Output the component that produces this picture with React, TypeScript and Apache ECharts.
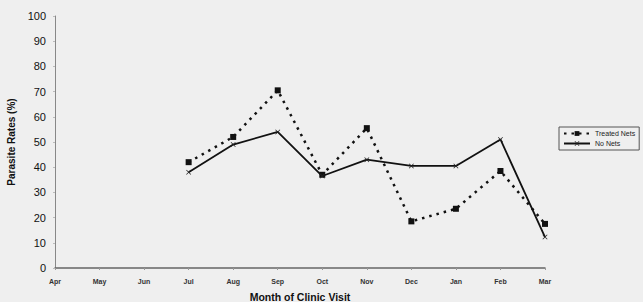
import React, { useEffect, useRef } from "react";
import * as echarts from "echarts";

const months = ["Apr", "May", "Jun", "Jul", "Aug", "Sep", "Oct", "Nov", "Dec", "Jan", "Feb", "Mar"];
const treatedNets: (number | null)[] = [null, null, null, 42, 52, 70.5, 37, 55.5, 18.5, 23.5, 38.5, 17.5];
const noNets: (number | null)[] = [null, null, null, 38, 49, 54, 36.5, 43, 40.5, 40.5, 51, 12.3];
const yTicks = [0, 10, 20, 30, 40, 50, 60, 70, 80, 90, 100];

const xSymbol = "path://M0,1 L1,0 L5,4 L9,0 L10,1 L6,5 L10,9 L9,10 L5,6 L1,10 L0,9 L4,5 Z";

export default function App() {
  const ref = useRef<HTMLDivElement>(null);
  useEffect(() => {
    const chart = echarts.init(ref.current!, null, { renderer: "svg" });
    chart.setOption({
      animation: false,
      backgroundColor: "#efefef",
      textStyle: { fontFamily: "Liberation Sans, Arial, sans-serif" },
      grid: { left: 55, right: 98, top: 16, bottom: 34, outerBoundsMode: "none", containLabel: false },
      legend: {
        left: 559,
        top: 127,
        orient: "vertical",
        padding: [3, 4, 3, 4],
        itemGap: 3,
        itemWidth: 26,
        itemHeight: 6,
        borderColor: "#555",
        borderWidth: 1,
        textStyle: { fontSize: 7, color: "#222" },
        data: ["Treated Nets", "No Nets"],
      },
      xAxis: {
        type: "category",
        data: months,
        boundaryGap: false,
        name: "Month of Clinic Visit",
        nameLocation: "middle",
        nameGap: 23,
        nameTextStyle: { fontSize: 10.5, fontWeight: "bold", color: "#111" },
        axisLine: { lineStyle: { color: "#666", width: 1.5 } },
        axisTick: { show: true, length: 2, lineStyle: { color: "#999" } },
        axisLabel: { fontSize: 7, fontWeight: "bold", color: "#333", margin: 10, interval: 0 },
        splitLine: { show: false },
      },
      yAxis: {
        type: "value",
        min: 0,
        max: 100,
        interval: 10,
        name: "Parasite Rates (%)",
        nameLocation: "middle",
        nameGap: 38,
        nameTextStyle: { fontSize: 10, fontWeight: "bold", color: "#111" },
        axisLine: { show: true, lineStyle: { color: "#888", width: 1 } },
        axisTick: { show: true, length: 2, inside: false, lineStyle: { color: "#bbb" } },
        axisLabel: {
          fontSize: 11,
          color: "#111",
          margin: 9,
          formatter: (v: number) => (yTicks.includes(v) ? String(v) : ""),
        },
        splitLine: { show: false },
      },
      series: [
        {
          name: "Treated Nets",
          type: "line",
          data: treatedNets,
          symbol: "rect",
          symbolSize: 6,
          itemStyle: { color: "#111" },
          lineStyle: { color: "#111", width: 2.5, type: [2.5, 5] },
        },
        {
          name: "No Nets",
          type: "line",
          data: noNets,
          symbol: xSymbol,
          symbolSize: 5,
          itemStyle: { color: "#222" },
          lineStyle: { color: "#111", width: 1.8 },
        },
      ],
    });
    return () => chart.dispose();
  }, []);
  return (
    <div
      ref={ref}
      style={{ position: "absolute", left: 0, top: 0, width: 643, height: 302 }}
    />
  );
}
